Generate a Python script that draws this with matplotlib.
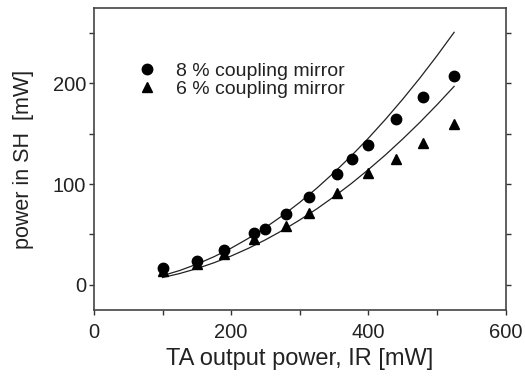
import matplotlib
matplotlib.use("Agg")
import matplotlib.pyplot as plt

plt.rcParams['font.family'] = ['Liberation Sans', 'DejaVu Sans']

# measured points, 8 % coupling mirror
ir_8 = [100, 150, 190, 234, 250, 280, 314, 354, 376, 400, 440, 480, 525]
sh_8 = [17, 24, 35, 51, 55, 70, 87, 110, 125, 139, 165, 187, 207]

# measured points, 6 % coupling mirror
ir_6 = [100, 150, 190, 234, 280, 314, 354, 400, 440, 480, 525]
sh_6 = [14, 21, 31, 45, 58, 71, 91, 111, 125, 141, 160]

# fit curves
fit_x = [100, 125, 150, 175, 200, 225, 250, 275, 300, 325, 350,
         375, 400, 425, 450, 475, 500, 525]
fit_8 = [9.1, 14.2, 20.5, 27.9, 36.4, 46.1, 56.9, 68.8, 81.9, 96.1, 111.5,
         128.0, 145.6, 164.4, 184.3, 205.3, 227.5, 250.8]
fit_6 = [7.2, 11.2, 16.1, 21.9, 28.6, 36.2, 44.7, 54.1, 64.4, 75.5, 87.6,
         100.5, 114.4, 129.1, 144.8, 161.3, 178.8, 197.1]

text_col = '#222222'

fig = plt.figure(figsize=(5.25, 3.78), dpi=100)
ax = fig.add_axes([0.179, 0.18, 0.784, 0.799])

ax.plot(fit_x, fit_8, color='#222222', lw=0.9)
ax.plot(fit_x, fit_6, color='#222222', lw=0.9)
ax.plot(ir_8, sh_8, 'o', color='black', ms=7.5, ls='none', label='8 % coupling mirror')
ax.plot(ir_6, sh_6, '^', color='black', ms=6.5, ls='none', label='6 % coupling mirror')

ax.set_xlim(0, 600)
ax.set_ylim(-25, 275)
ax.set_xticks([0, 200, 400, 600])
ax.set_xticks([100, 300, 500], minor=True)
ax.set_yticks([0, 100, 200])
ax.set_yticks([50, 150, 250], minor=True)

ax.tick_params(which='both', colors='#333333', labelsize=14.5, labelcolor=text_col)
ax.tick_params(right=True, which='both', direction='in', length=2)
ax.tick_params(left=True, bottom=True, which='both', direction='out', length=3.5, width=1)
ax.tick_params(axis='x', pad=6)
ax.tick_params(axis='y', pad=2)

for s in ax.spines.values():
    s.set_color('#444444')
    s.set_linewidth(1.2)

ax.set_xlabel('TA output power, IR [mW]', fontsize=17, color=text_col, labelpad=4)
ax.set_ylabel('power in SH  [mW]', fontsize=15.5, color=text_col, labelpad=14)

leg = ax.legend(loc='upper left', bbox_to_anchor=(0.087, 0.845), frameon=False,
                fontsize=14, handlelength=1, handletextpad=1.0,
                labelspacing=0.02, borderaxespad=0)
for t in leg.get_texts():
    t.set_color(text_col)

fig.savefig('out.png', dpi=100)
